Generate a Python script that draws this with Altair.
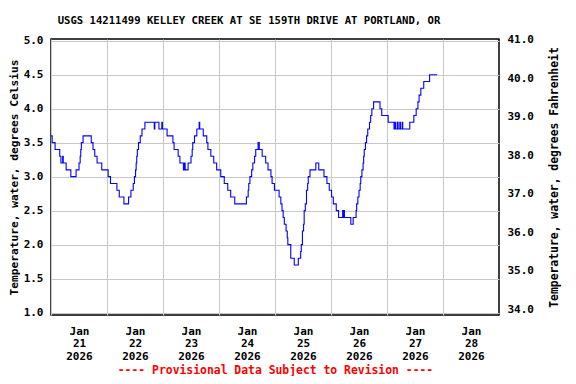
import altair as alt
import pandas as pd

TITLE = "USGS 14211499 KELLEY CREEK AT SE 159TH DRIVE AT PORTLAND, OR"
FOOTER = "---- Provisional Data Subject to Revision ----"
Y_TITLE_C = "Temperature, water, degrees Celsius"
Y_TITLE_F = "Temperature, water, degrees Fahrenheit"

# hours since 2026-01-21 00:00 (step changes) and water temperature in deg C
hours = [
    0, 0.5, 1.75, 3.75, 4.25, 5.0, 5.25, 6.5, 8.5, 10.75, 12.0, 12.5, 12.75, 13.0, 13.75,
    17.25, 18.0, 18.75, 19.75, 21.75, 24.5, 25.5, 28.25, 29.25, 31.25, 33.25, 34.25, 35.25,
    35.75, 36.25, 36.5, 36.75, 37.0, 37.5, 38.25, 39.0, 40.25, 44.25, 44.5, 46.25, 47.5,
    47.75, 49.75, 52.25, 52.75, 54.5, 55.25, 56.75, 57.25, 57.5, 58.75, 60.0, 60.5, 60.75,
    61.5, 62.5, 63.5, 63.75, 65.25, 66.75, 67.25, 68.5, 69.75, 71.0, 72.75, 74.25, 75.75,
    77.0, 78.75, 83.75, 84.5, 84.75, 85.25, 86.0, 86.5, 87.25, 87.75, 88.75, 89.25, 90.5,
    92.0, 93.0, 94.25, 94.75, 95.75, 97.75, 98.5, 99.0, 99.5, 100.0, 100.75, 101.25, 101.5,
    102.75, 104.25, 106.0, 107.0, 107.25, 107.75, 108.25, 108.5, 109.0, 109.5, 110.0,
    110.25, 111.0, 113.5, 114.75, 117.0, 118.25, 119.25, 120.25, 121.0, 122.25, 123.25,
    125.0, 125.25, 125.5, 125.75, 128.5, 129.5, 130.75, 131.0, 131.5, 132.0, 132.5, 132.75,
    133.25, 133.75, 134.0, 134.25, 134.75, 135.25, 135.75, 136.5, 137.0, 137.5, 138.25,
    141.0, 141.75, 144.5, 147.0, 147.5, 147.75, 148.5, 148.75, 149.5, 149.75, 150.5,
    150.75, 153.75, 155.5, 156.5, 157.25, 157.75, 158.5, 159.75, 162.25, 165.5,
]
temps_c = [
    3.6, 3.5, 3.4, 3.3, 3.2, 3.3, 3.2, 3.1, 3.0, 3.1, 3.2, 3.3, 3.4, 3.5, 3.6,
    3.5, 3.4, 3.3, 3.2, 3.1, 3.0, 2.9, 2.8, 2.7, 2.6, 2.7, 2.8, 2.9,
    3.0, 3.1, 3.2, 3.3, 3.4, 3.5, 3.6, 3.7, 3.8, 3.7, 3.8, 3.7, 3.8,
    3.7, 3.6, 3.5, 3.4, 3.3, 3.2, 3.1, 3.2, 3.1, 3.2, 3.3, 3.4, 3.5,
    3.6, 3.7, 3.8, 3.7, 3.6, 3.5, 3.4, 3.3, 3.2, 3.1, 3.0, 2.9, 2.8,
    2.7, 2.6, 2.7, 2.8, 2.9, 3.0, 3.1, 3.2, 3.3, 3.4, 3.5, 3.4, 3.3,
    3.2, 3.1, 3.0, 2.9, 2.8, 2.7, 2.6, 2.5, 2.4, 2.3, 2.2, 2.1, 2.0,
    1.8, 1.7, 1.8, 1.9, 2.0, 2.2, 2.3, 2.5, 2.6, 2.8, 2.9,
    3.0, 3.1, 3.2, 3.1, 3.0, 2.9, 2.8, 2.7, 2.6, 2.5, 2.4,
    2.5, 2.4, 2.5, 2.4, 2.3, 2.4, 2.5, 2.6, 2.7, 2.8, 2.9, 3.0,
    3.1, 3.2, 3.3, 3.4, 3.5, 3.6, 3.7, 3.8, 3.9, 4.0, 4.1,
    4.0, 3.9, 3.8, 3.7, 3.8, 3.7, 3.8, 3.7, 3.8, 3.7, 3.8,
    3.7, 3.8, 3.9, 4.0, 4.1, 4.2, 4.3, 4.4, 4.5, 4.5,
]
label_days = [21, 22, 23, 24, 25, 26, 27, 28]
c_ticks = [1.0, 1.5, 2.0, 2.5, 3.0, 3.5, 4.0, 4.5, 5.0]
f_ticks = [34, 35, 36, 37, 38, 39, 40, 41]

start = pd.Timestamp("2026-01-21 00:00")
df = pd.DataFrame({
    "time": [(start + pd.Timedelta(hours=h)).strftime("%Y-%m-%dT%H:%M:%S") for h in hours],
    "c": temps_c,
})

FONT = "DejaVu Sans Mono"
x_domain = [alt.DateTime(year=2026, month=1, date=21), alt.DateTime(year=2026, month=1, date=29)]

x_enc = alt.X(
    "time:T",
    scale=alt.Scale(domain=x_domain),
    axis=alt.Axis(
        values=[alt.DateTime(year=2026, month=1, date=d) for d in label_days],
        labelExpr="[timeFormat(datum.value, '%b'), timeFormat(datum.value, '%d'), timeFormat(datum.value, '%Y')]",
        labelOffset=28,
        labelOverlap=False,
        labelFlush=False,
        labelAlign="center",
        labelFont=FONT,
        labelFontWeight="bold",
        labelFontSize=11,
        labelLineHeight=12.7,
        labelPadding=10,
        labelColor="black",
        ticks=False,
        domain=False,
        grid=True,
        gridColor="#c8c8c8",
        gridWidth=1,
        title=FOOTER,
        titleColor="#ff0000",
        titleFont=FONT,
        titleFontWeight="bold",
        titleFontSize=11.4,
        titlePadding=3,
    ),
)

left = alt.Chart(df).mark_line(interpolate="step-after", color="#0000ff", strokeWidth=1.1).encode(
    x=x_enc,
    y=alt.Y(
        "c:Q",
        scale=alt.Scale(domain=[0.965, 5.025], nice=False, zero=False),
        axis=alt.Axis(
            values=c_ticks,
            format=".1f",
            ticks=False,
            domain=False,
            grid=True,
            gridColor="#c8c8c8",
            gridWidth=1,
            labelFont=FONT,
            labelFontWeight="bold",
            labelFontSize=11,
            labelColor="black",
            labelPadding=8,
            title=Y_TITLE_C,
            titleFont=FONT,
            titleFontWeight="bold",
            titleFontSize=11.2,
            titlePadding=4,
        ),
    ),
)

right = alt.Chart(df).transform_calculate(f="datum.c * 1.8 + 32").mark_line(
    interpolate="step-after", opacity=0
).encode(
    x=x_enc,
    y=alt.Y(
        "f:Q",
        scale=alt.Scale(domain=[33.85, 41.02], nice=False, zero=False),
        axis=alt.Axis(
            orient="right",
            values=f_ticks,
            format=".1f",
            ticks=False,
            domain=False,
            grid=False,
            labelFont=FONT,
            labelFontWeight="bold",
            labelFontSize=11,
            labelColor="black",
            labelPadding=8,
            title=Y_TITLE_F,
            titleAngle=270,
            titleBaseline="top",
            titleFont=FONT,
            titleFontWeight="bold",
            titleFontSize=11.4,
            titlePadding=15,
        ),
    ),
)

chart = alt.layer(left, right).resolve_scale(y="independent").properties(
    width=448,
    height=276,
    title=alt.TitleParams(
        TITLE, font=FONT, fontSize=10.6, fontWeight="bold", anchor="middle",
        dx=-26, offset=7, color="black",
    ),
    autosize=alt.AutoSizeParams(type="none"),
    padding={"left": 43, "top": 31, "right": 69, "bottom": 61},
    background="white",
).configure_view(stroke="black", strokeWidth=1.5)

chart.save("out.html", embed_options={"renderer": "svg", "actions": False})
